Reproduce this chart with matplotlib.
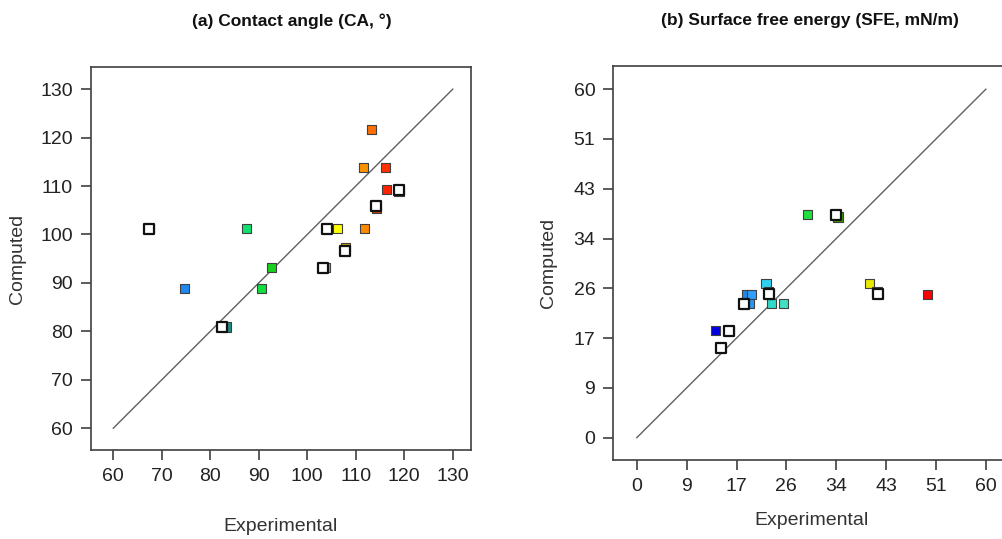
import numpy as np
import matplotlib
matplotlib.use("Agg")
import matplotlib.pyplot as plt
from matplotlib.ticker import FixedLocator, FuncFormatter

plt.rcParams['font.family'] = ['Liberation Sans', 'DejaVu Sans']

# (a) contact angle: coloured points, then hollow points drawn on top
ca_exp = [67.4, 74.7, 83.3, 87.5, 92.6, 90.5, 103.7, 104.0, 106.2, 107.8,
          111.8, 111.6, 113.3, 116.1, 116.4, 118.9, 114.2]
ca_comp = [101.2, 88.8, 80.9, 101.2, 93.1, 88.8, 93.1, 101.2, 101.2, 97.3,
           101.2, 113.8, 121.7, 113.8, 109.2, 108.9, 105.4]
ca_colors = ['#000080', '#1e88f0', '#208a80', '#10e070', '#18d020', '#10e040',
             '#b8c000', '#a8b400', '#ffff00', '#c8a000', '#ff8a00', '#ff9000',
             '#ff7000', '#ff3000', '#ff2200', '#c00000', '#e04000']
ca_open_exp = [67.4, 82.4, 103.3, 104.1, 107.8, 118.9, 114.2]
ca_open_comp = [101.2, 80.9, 93.1, 101.2, 96.6, 109.2, 105.9]

# (b) surface free energy
sfe_exp = [13.6, 16.0, 18.8, 19.7, 19.4, 22.2, 22.7, 23.1, 25.2, 29.4,
           34.6, 40.0, 41.3, 49.95]
sfe_comp = [18.4, 18.4, 24.7, 24.7, 23.1, 26.5, 25.2, 23.1, 23.1, 38.4,
            38.0, 26.5, 25.2, 24.7]
sfe_colors = ['#0000e0', '#1030a0', '#1e88f0', '#30a0ff', '#2898f0', '#30d0f0',
              '#20a8a0', '#30d8c8', '#40e0c0', '#20e040', '#40a000', '#e8e800',
              '#c0a000', '#ff0000']
sfe_open_exp = [15.9, 14.4, 18.5, 22.7, 34.2, 41.5]
sfe_open_comp = [18.4, 15.5, 23.0, 24.7, 38.4, 24.7]

fig = plt.figure(figsize=(10.02, 5.39), dpi=100)
ax1 = fig.add_axes([0.0908, 0.1651, 0.379, 0.710])
ax2 = fig.add_axes([0.6121, 0.1466, 0.395, 0.7310])


def style(ax):
    for sp in ax.spines.values():
        sp.set_color('#404040')
        sp.set_linewidth(1.2)
    ax.tick_params(direction='out', length=7, width=1.2, color='#404040',
                   labelsize=14, labelcolor='#222222', pad=6)
    ax.xaxis.label.set_color('#333333')
    ax.yaxis.label.set_color('#333333')


# left panel
ax1.plot([60, 130], [60, 130], color='#606060', lw=1.0, zorder=1)
ax1.scatter(ca_exp, ca_comp, marker='s', s=44, c=ca_colors,
            edgecolors='#404040', linewidths=0.8, zorder=2)
ax1.scatter(ca_open_exp, ca_open_comp, marker='s', s=50, facecolors='white',
            edgecolors='#111111', linewidths=1.6, zorder=3)
ax1.set_xlim(55.4, 133.7)
ax1.set_ylim(55.5, 134.5)
ax1.set_xticks(np.arange(60, 131, 10))
ax1.set_yticks(np.arange(60, 131, 10))
ax1.set_xlabel('Experimental', fontsize=14, labelpad=24)
ax1.set_ylabel('Computed', fontsize=14, labelpad=10)
style(ax1)

# right panel
ax2.plot([0, 60], [0, 60], color='#606060', lw=1.0, zorder=1)
ax2.scatter(sfe_exp, sfe_comp, marker='s', s=44, c=sfe_colors,
            edgecolors='#404040', linewidths=0.8, zorder=2)
ax2.scatter(sfe_open_exp, sfe_open_comp, marker='s', s=50, facecolors='white',
            edgecolors='#111111', linewidths=1.6, zorder=3)
ax2.set_xlim(-4.03, 64.0)
ax2.set_ylim(-3.84, 64.0)
ticks = np.linspace(0, 60, 8)
fmt = FuncFormatter(lambda v, p: f"{round(v):d}")
for axis in (ax2.xaxis, ax2.yaxis):
    axis.set_major_locator(FixedLocator(ticks))
    axis.set_major_formatter(fmt)
ax2.set_xlabel('Experimental', fontsize=14, labelpad=12)
ax2.set_ylabel('Computed', fontsize=14, labelpad=12)
style(ax2)

title_kw = dict(fontsize=12.5, fontweight='bold', ha='center', va='center',
                color='#111111')
fig.text(292 / 1002, 1 - 21 / 539, '(a) Contact angle (CA, °)', **title_kw)
fig.text(810 / 1002, 1 - 21 / 539, '(b) Surface free energy (SFE, mN/m)', **title_kw)

fig.savefig('out.png', dpi=100)
